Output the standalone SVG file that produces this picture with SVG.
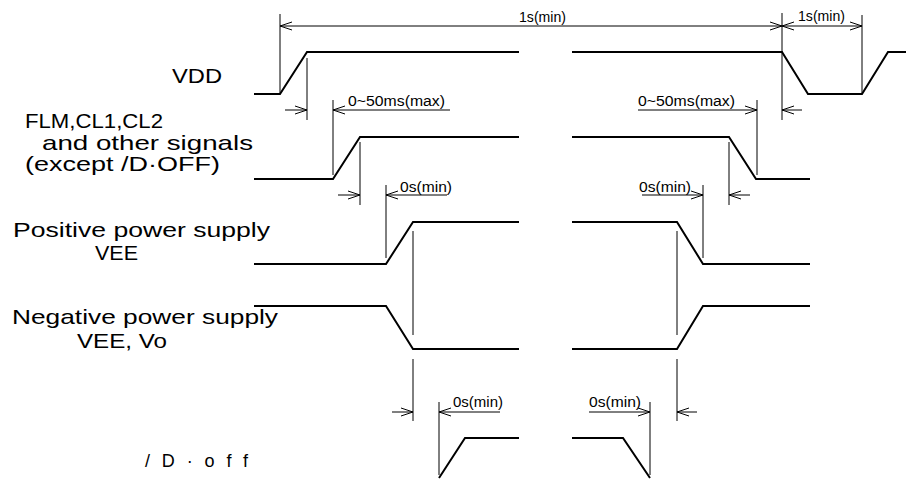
<svg xmlns="http://www.w3.org/2000/svg" width="906" height="479" viewBox="0 0 906 479">
<defs>
<marker id="arr" viewBox="-14 -6 15 12" markerWidth="15" markerHeight="12" refX="0" refY="0" markerUnits="userSpaceOnUse" orient="auto-start-reverse">
<path d="M-12,-4 L0,0 L-12,4" fill="none" stroke="#000" stroke-width="1"/>
</marker>
</defs>
<style>
.wave{fill:none;stroke:#000;stroke-width:2;stroke-linejoin:miter}
.ext{fill:none;stroke:#000;stroke-width:1}
.dim{fill:none;stroke:#000;stroke-width:1;marker-end:url(#arr)}
.dim2{fill:none;stroke:#000;stroke-width:1;marker-start:url(#arr);marker-end:url(#arr)}
.lbl{font-family:"Liberation Sans",Arial,sans-serif;font-size:21px;fill:#000}
.sm{font-family:"Liberation Sans",Arial,sans-serif;font-size:14px;fill:#000}
</style>
<rect width="906" height="479" fill="#fff"/>
<g id="vdd">
<text class="lbl" x="172" y="83" textLength="50" lengthAdjust="spacingAndGlyphs">VDD</text>
<polyline class="wave" points="254,94 280,94 307,52 519,52"/>
<polyline class="wave" points="572,52 782,52 808,94 862,94 888,52 906,52"/>
</g>
<g id="signals">
<text class="lbl" x="25" y="128" textLength="138" lengthAdjust="spacingAndGlyphs">FLM,CL1,CL2</text>
<text class="lbl" x="42" y="150" textLength="211" lengthAdjust="spacingAndGlyphs">and other signals</text>
<text class="lbl" x="25" y="171" textLength="195" lengthAdjust="spacingAndGlyphs">(except /D·OFF)</text>
<polyline class="wave" points="254,179 333,179 360,137 519,137"/>
<polyline class="wave" points="572,137 729,137 756,179 810,179"/>
</g>
<g id="positive">
<text class="lbl" x="13" y="237" textLength="257" lengthAdjust="spacingAndGlyphs">Positive power supply</text>
<text class="lbl" x="95" y="260" textLength="43" lengthAdjust="spacingAndGlyphs">VEE</text>
<polyline class="wave" points="254,264 386,264 413,222 519,222"/>
<polyline class="wave" points="572,222 677,222 703,264 810,264"/>
</g>
<g id="negative">
<text class="lbl" x="12" y="324" textLength="266" lengthAdjust="spacingAndGlyphs">Negative power supply</text>
<text class="lbl" x="77" y="348" textLength="90" lengthAdjust="spacingAndGlyphs">VEE, Vo</text>
<polyline class="wave" points="254,306 386,306 413,349 519,349"/>
<polyline class="wave" points="572,349 677,349 703,306 810,306"/>
</g>
<g id="doff">
<text class="lbl" x="145" y="467" style="font-size:18px" textLength="103" lengthAdjust="spacing">/D·off</text>
<polyline class="wave" points="439,478 465,438 519,438"/>
<polyline class="wave" points="572,438 623,438 650,478"/>
</g>
<g id="connectors">
<path class="ext" d="M280,14V93 M862,15V93 M782,13V120 M307,58V120 M333,100V175 M757,100V175 M360,142V205 M386,185V258 M729,142V205 M703,185V258 M413,231V335 M413,359V421 M677,231V335 M677,359V421 M439,402V475 M650,402V475"/>
<line class="dim2" x1="280" y1="26" x2="782" y2="26"/>
<line class="dim2" x1="782" y1="26" x2="862" y2="26"/>
<line class="dim" x1="285" y1="110" x2="307" y2="110"/>
<line class="dim" x1="450" y1="110" x2="333" y2="110"/>
<line class="dim" x1="638" y1="110" x2="757" y2="110"/>
<line class="dim" x1="802" y1="110" x2="782" y2="110"/>
<line class="dim" x1="338" y1="195" x2="360" y2="195"/>
<line class="dim" x1="447" y1="195" x2="386" y2="195"/>
<line class="dim" x1="642" y1="195" x2="703" y2="195"/>
<line class="dim" x1="750" y1="195" x2="729" y2="195"/>
<line class="dim" x1="392" y1="412" x2="413" y2="412"/>
<line class="dim" x1="500" y1="412" x2="439" y2="412"/>
<line class="dim" x1="589" y1="412" x2="650" y2="412"/>
<line class="dim" x1="697" y1="412" x2="677" y2="412"/>
<text class="sm" x="519" y="22" textLength="47" lengthAdjust="spacingAndGlyphs">1s(min)</text>
<text class="sm" x="798" y="21" textLength="47" lengthAdjust="spacingAndGlyphs">1s(min)</text>
<text class="sm" x="348" y="106" textLength="97" lengthAdjust="spacingAndGlyphs">0~50ms(max)</text>
<text class="sm" x="638" y="106" textLength="97" lengthAdjust="spacingAndGlyphs">0~50ms(max)</text>
<text class="sm" x="400" y="192" textLength="52" lengthAdjust="spacingAndGlyphs">0s(min)</text>
<text class="sm" x="639" y="192" textLength="52" lengthAdjust="spacingAndGlyphs">0s(min)</text>
<text class="sm" x="453" y="407" textLength="50" lengthAdjust="spacingAndGlyphs">0s(min)</text>
<text class="sm" x="589" y="407" textLength="52" lengthAdjust="spacingAndGlyphs">0s(min)</text>
</g>
</svg>
